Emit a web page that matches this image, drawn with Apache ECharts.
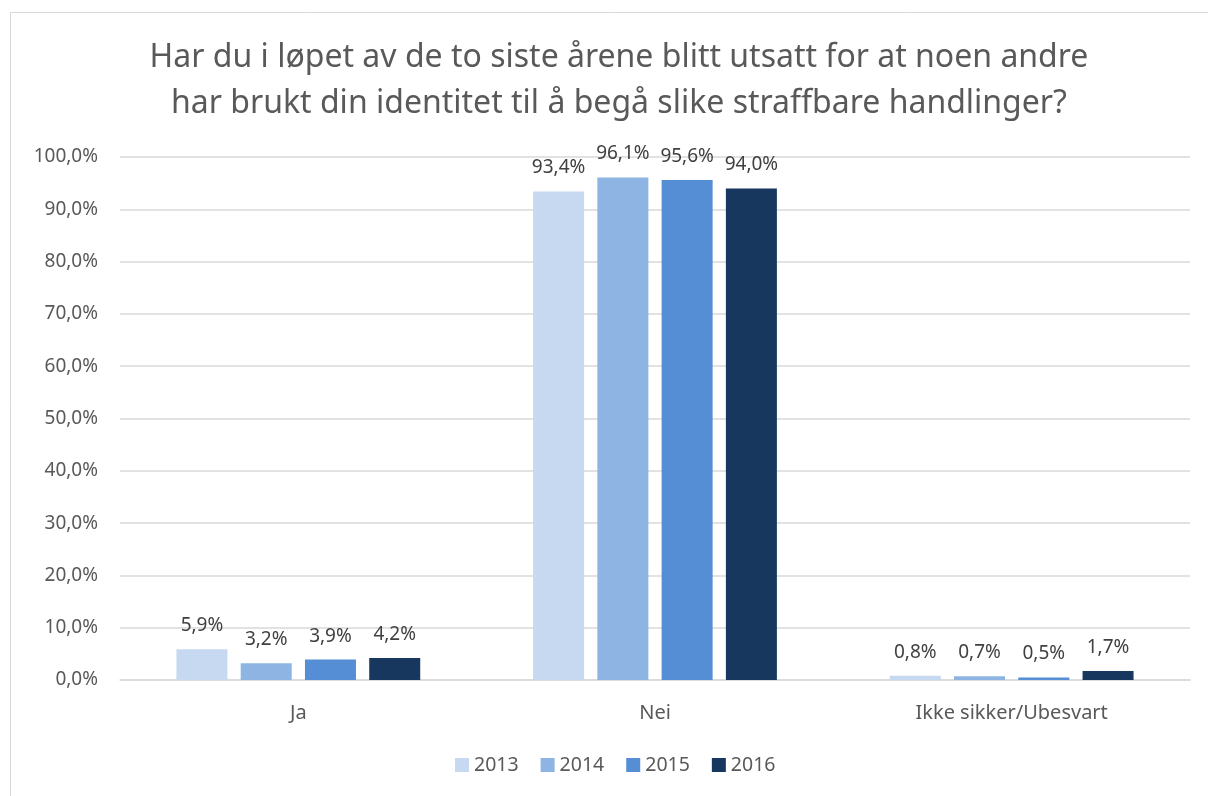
<!DOCTYPE html>
<html>
<head>
<meta charset="utf-8">
<script src="https://cdn.jsdelivr.net/npm/echarts@6/dist/echarts.min.js"></script>
<style>
  html, body { margin: 0; padding: 0; background: #fff; }
  #chart { width: 1208px; height: 796px; }
</style>
</head>
<body>
<div id="chart"></div>
<script>
// answers and survey years
const categories = ['Ja', 'Nei', 'Ikke sikker/Ubesvart'];
const years = ['2013', '2014', '2015', '2016'];
const values2013 = [5.9, 93.4, 0.8];
const values2014 = [3.2, 96.1, 0.7];
const values2015 = [3.9, 95.6, 0.5];
const values2016 = [4.2, 94.0, 1.7];
const colors = ['#C6D9F1', '#8DB4E2', '#558ED5', '#17375E'];

const fmt = (v) => v.toFixed(1).replace('.', ',') + '%';
const font = '"Noto Sans", "Open Sans", sans-serif';

const chart = echarts.init(document.getElementById('chart'));

const seriesValues = [values2013, values2014, values2015, values2016];

const option = {
  animation: false,
  color: colors,
  title: {
    text: 'Har du i løpet av de to siste årene blitt utsatt for at noen andre\nhar brukt din identitet til å begå slike straffbare handlinger?',
    left: 614,
    textAlign: 'center',
    top: 30,
    textStyle: {
      fontFamily: font,
      fontSize: 32,
      fontWeight: 'normal',
      color: '#595959',
      lineHeight: 46
    }
  },
  graphic: [{
    type: 'rect',
    shape: { x: 10.5, y: 12.5, width: 1220, height: 800 },
    style: { fill: 'none', stroke: '#d9d9d9', lineWidth: 1 },
    silent: true
  }],
  legend: {
    bottom: 16,
    left: 450,
    itemWidth: 14,
    itemHeight: 14,
    itemGap: 22,
    icon: 'rect',
    textStyle: { fontFamily: font, fontSize: 19.5, color: '#595959' },
    data: years
  },
  grid: { left: 120, right: 18, top: 157, bottom: 116 },
  xAxis: {
    type: 'category',
    data: categories,
    axisTick: { show: false },
    axisLine: { lineStyle: { color: '#d9d9d9', width: 1.5 } },
    axisLabel: { fontFamily: font, fontSize: 20, color: '#595959', margin: 23 }
  },
  yAxis: {
    type: 'value',
    min: 0,
    max: 100,
    interval: 10,
    axisLine: { show: false },
    axisTick: { show: false },
    splitLine: { lineStyle: { color: '#d9d9d9', width: 1.5 } },
    axisLabel: {
      fontFamily: font, fontSize: 19, color: '#595959', margin: 22,
      formatter: fmt
    }
  },
  series: years.map((y, i) => ({
    name: y,
    type: 'bar',
    data: seriesValues[i],
    barWidth: 51,
    barGap: '26%',
    label: {
      show: true,
      position: 'top',
      distance: 14,
      fontFamily: font,
      fontSize: 19,
      color: '#404040',
      formatter: (p) => fmt(p.value)
    }
  }))
};

chart.setOption(option);
</script>
</body>
</html>
